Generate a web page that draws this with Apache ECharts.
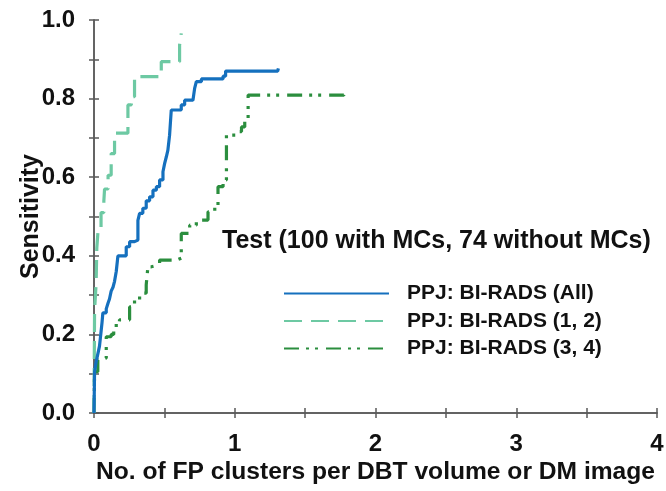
<!DOCTYPE html>
<html>
<head>
<meta charset="utf-8">
<script src="https://cdn.jsdelivr.net/npm/echarts@6/dist/echarts.min.js"></script>
<style>
  html, body { margin: 0; padding: 0; background: #fff; }
  #chart { width: 666px; height: 491px; }
</style>
</head>
<body>
<div id="chart"></div>
<script>
// FROC operating points: [FP clusters per volume/image, sensitivity]
const seriesNames = ['PPJ: BI-RADS (All)', 'PPJ: BI-RADS (1, 2)', 'PPJ: BI-RADS (3, 4)'];

const frocAll = [
  [0, 0], [0.004, 0.105], [0.015, 0.13], [0.027, 0.15], [0.039, 0.17], [0.045, 0.19],
  [0.051, 0.21], [0.057, 0.23], [0.063, 0.255], [0.087, 0.265], [0.1, 0.28], [0.11, 0.29],
  [0.122, 0.31], [0.135, 0.32], [0.146, 0.335], [0.158, 0.36], [0.17, 0.40], [0.229, 0.423],
  [0.253, 0.436], [0.288, 0.44], [0.312, 0.49], [0.324, 0.508], [0.347, 0.521], [0.371, 0.54],
  [0.395, 0.55], [0.419, 0.567], [0.443, 0.576], [0.466, 0.593], [0.49, 0.614], [0.502, 0.635],
  [0.514, 0.652], [0.525, 0.669], [0.537, 0.707], [0.549, 0.771], [0.62, 0.784], [0.644, 0.796],
  [0.703, 0.80], [0.715, 0.826], [0.727, 0.843], [0.763, 0.85], [0.917, 0.857], [0.935, 0.87],
  [1.305, 0.87], [1.31, 0.877]
];

const frocBirads12 = [
  [0, 0], [0.004, 0.26], [0.015, 0.33], [0.02, 0.42], [0.03, 0.47], [0.05, 0.51],
  [0.07, 0.54], [0.075, 0.57], [0.1, 0.605], [0.122, 0.66], [0.146, 0.712], [0.241, 0.784],
  [0.265, 0.805], [0.288, 0.856], [0.478, 0.894], [0.608, 0.936], [0.62, 0.966]
];

const frocBirads34 = [
  [0, 0], [0.004, 0.105], [0.027, 0.135], [0.051, 0.14], [0.087, 0.194], [0.122, 0.20],
  [0.14, 0.215], [0.158, 0.229], [0.181, 0.237], [0.253, 0.27], [0.288, 0.288], [0.324, 0.305],
  [0.371, 0.326], [0.383, 0.372], [0.407, 0.377], [0.466, 0.389], [0.585, 0.394], [0.62, 0.457],
  [0.68, 0.478], [0.727, 0.491], [0.81, 0.512], [0.858, 0.529], [0.881, 0.576], [0.917, 0.593],
  [0.941, 0.707], [1.024, 0.716], [1.048, 0.728], [1.071, 0.75], [1.095, 0.809], [1.775, 0.809],
  [1.78, 0.818]
];

const xTickLabels = ['0', '1', '2', '3', '4'];
const yTickLabels = ['0.0', '0.2', '0.4', '0.6', '0.8', '1.0'];
const testLabel = 'Test (100 with MCs, 74 without MCs)';

const FONT = '"Liberation Sans", Arial, sans-serif';
const AXIS_COLOR = '#5a5a5a';
const colors = ['#1570be', '#6dc9a3', '#2b8e3e'];

const axisLineStyle = { lineStyle: { color: AXIS_COLOR, width: 1.5 } };
const tickStyle = { show: true, inside: false, length: 5, lineStyle: { color: AXIS_COLOR, width: 1.5 } };

const chart = echarts.init(document.getElementById('chart'), null, { renderer: 'canvas' });

chart.setOption({
  animation: false,
  backgroundColor: '#fff',
  grid: { left: 94, right: 9, top: 20, bottom: 78, containLabel: false, outerBoundsMode: 'none' },
  textStyle: { fontFamily: FONT },
  legend: {
    orient: 'vertical',
    left: 278,
    top: 278,
    itemWidth: 105,
    itemHeight: 14,
    itemGap: 6.5,
    data: seriesNames,
    // line-only keys: hide the marker that line series put on their legend icon
    itemStyle: { color: 'rgba(0,0,0,0)', borderWidth: 0, opacity: 0 },
    textStyle: { fontFamily: FONT, fontWeight: 'bold', fontSize: 21, color: '#111', padding: [0, 0, 0, 13] }
  },
  graphic: [{
    type: 'text',
    left: 222,
    top: 229,
    style: { text: testLabel, fontFamily: FONT, fontWeight: 'bold', fontSize: 25, fill: '#111' }
  }],
  xAxis: [{
    type: 'value', min: 0, max: 4, interval: 0.5, position: 'bottom',
    axisLine: axisLineStyle, axisTick: tickStyle, splitLine: { show: false },
    axisLabel: {
      margin: 19, fontFamily: FONT, fontWeight: 'bold', fontSize: 24, color: '#111',
      formatter: v => (Math.abs(v - Math.round(v)) < 1e-6 ? xTickLabels[Math.round(v)] : '')
    },
    name: 'No. of FP clusters per DBT volume or DM image',
    nameLocation: 'middle', nameGap: 47, nameMoveOverlap: false,
    nameTextStyle: { fontFamily: FONT, fontWeight: 'bold', fontSize: 24.6, color: '#111' }
  }, {
    type: 'value', min: 0, max: 4, interval: 0.5, position: 'top',
    axisLine: axisLineStyle, axisTick: tickStyle, axisLabel: { show: false }, splitLine: { show: false }
  }],
  yAxis: [{
    type: 'value', min: 0, max: 1, interval: 0.1, position: 'left',
    axisLine: axisLineStyle, axisTick: tickStyle, splitLine: { show: false },
    axisLabel: {
      margin: 19, fontFamily: FONT, fontWeight: 'bold', fontSize: 24, color: '#111',
      formatter: v => {
        const k = Math.round(v * 10);
        return k % 2 === 0 ? yTickLabels[k / 2] : '';
      }
    },
    name: 'Sensitivity',
    nameLocation: 'middle', nameGap: 50, nameMoveOverlap: false,
    nameTextStyle: { fontFamily: FONT, fontWeight: 'bold', fontSize: 25, color: '#111' }
  }, {
    type: 'value', min: 0, max: 1, interval: 0.1, position: 'right',
    axisLine: axisLineStyle, axisTick: tickStyle, axisLabel: { show: false }, splitLine: { show: false }
  }],
  series: [{
    name: seriesNames[2], type: 'line', step: 'end', data: frocBirads34,
    symbol: 'none', showSymbol: false, color: colors[2], z: 2,
    lineStyle: { color: colors[2], width: 3.2, type: [15, 7, 3, 6, 3, 8], cap: 'butt' }
  }, {
    name: seriesNames[1], type: 'line', step: 'end', data: frocBirads12,
    symbol: 'none', showSymbol: false, color: colors[1], z: 3,
    lineStyle: { color: colors[1], width: 3.2, type: [18, 9], cap: 'butt' }
  }, {
    name: seriesNames[0], type: 'line', step: 'end', data: frocAll,
    symbol: 'none', showSymbol: false, color: colors[0], z: 4,
    lineStyle: { color: colors[0], width: 3.2 }
  }]
});
</script>
</body>
</html>
